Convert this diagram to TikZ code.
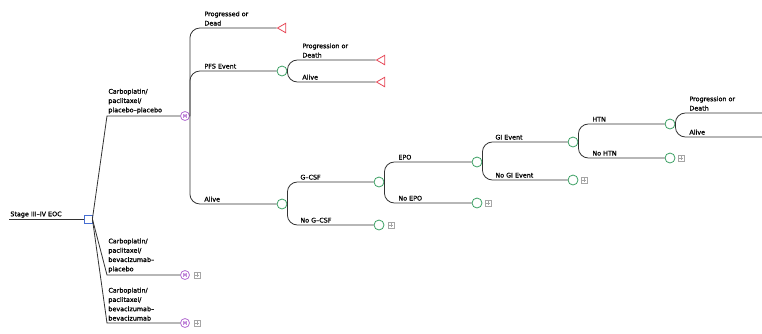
\documentclass[tikz,border=0pt]{standalone}
\usepackage{fontspec}
\usepackage{tikz}
\usetikzlibrary{shapes.geometric}
\newfontfamily\treefont[FakeBold=0.9]{DejaVu Sans}
\definecolor{chcgreen}{RGB}{60,160,100}
\definecolor{mkvpurple}{RGB}{180,110,210}
\definecolor{trmred}{RGB}{230,70,85}
\definecolor{decblue}{RGB}{70,110,210}

\begin{document}
\begin{tikzpicture}[x=1pt, y=-1pt, line width=0.8pt,
	every node/.style={font=\treefont\fontsize{6.4}{9.3}\selectfont},
	br/.style={draw=black!80, rounded corners=10pt},
	lbl/.style={anchor=south west, inner sep=1pt, align=left},
	dec/.style={draw=decblue, fill=white, minimum size=8pt, inner sep=0pt},
	mkv/.style={draw=mkvpurple, fill=white, circle, minimum size=9pt, inner sep=0pt, text=mkvpurple, font=\treefont\fontsize{5}{5}\selectfont},
	chc/.style={draw=chcgreen, fill=white, circle, minimum size=10pt, inner sep=0pt},
	trm/.style={draw=trmred, fill=white, regular polygon, regular polygon sides=3, shape border rotate=90, minimum size=11pt, inner sep=0pt},
	clps/.style={draw=gray!70, minimum size=6.5pt, inner sep=0pt, line width=0.5pt, path picture={\draw[gray!70, line width=0.5pt] ([yshift=-1.3pt]path picture bounding box.north) -- ([yshift=1.3pt]path picture bounding box.south) ([xshift=1.3pt]path picture bounding box.west) -- ([xshift=-1.3pt]path picture bounding box.east);}}]
	\useasboundingbox (0,0) rectangle (762,333);
	\node[lbl] (root) at (9,219) {Stage III–IV EOC};
	\node[dec] (d) at (88,219) {};
	\draw[br] (root.south west) -- (d);
	\node[mkv] (m1) at (185,116) {M};
	\node[mkv] (m2) at (185,275) {M};
	\node[mkv] (m3) at (185,323) {M};
	\node[clps] (x5) at (197,275) {};
	\node[clps] (x6) at (197,323) {};
	\node[lbl] (l1) at (107,115) {Carboplatin/\\paclitaxel/\\placebo–placebo};
	\node[lbl] (l2) at (107,274) {Carboplatin/\\paclitaxel/\\bevacizumab–\\placebo};
	\node[lbl] (l3) at (107,322) {Carboplatin/\\paclitaxel/\\bevacizumab–\\bevacizumab};
	\draw[draw=black!80] (d.east) -- (l1.south west |- m1) -- (m1);
	\draw[draw=black!80] (d.east) -- (l2.south west |- m2) -- (m2);
	\draw[draw=black!80] (d.east) -- (l3.south west |- m3) -- (m3);
	\node[trm] (t1) at (283,28) {};
	\node[chc] (c1) at (282,71) {};
	\node[chc] (c2) at (282,204) {};
	\node[lbl] at (203,27) {Progressed or\\Dead};
	\node[lbl] at (203,70) {PFS Event};
	\node[lbl] at (203,203) {Alive};
	\draw[br] (m1.east) |- (t1);
	\draw[br] (m1.east) |- (c1);
	\draw[br] (m1.east) |- (c2);
	\node[trm] (t2) at (382,60) {};
	\node[trm] (t3) at (382,82) {};
	\node[lbl] at (301,59) {Progression or\\Death};
	\node[lbl] at (301,81) {Alive};
	\draw[br] (c1.east) |- (t2);
	\draw[br] (c1.east) |- (t3);
	\node[chc] (c3) at (379,182) {};
	\node[chc] (c4) at (379,225) {};
	\node[clps] (x1) at (391,225) {};
	\node[lbl] at (299,181) {G–CSF};
	\node[lbl] at (299,224) {No G–CSF};
	\draw[br] (c2.east) |- (c3);
	\draw[br] (c2.east) |- (c4);
	\node[chc] (c5) at (477,162) {};
	\node[chc] (c6) at (477,203) {};
	\node[clps] (x2) at (488,203) {};
	\node[lbl] at (397,161) {EPO};
	\node[lbl] at (397,202) {No EPO};
	\draw[br] (c3.east) |- (c5);
	\draw[br] (c3.east) |- (c6);
	\node[chc] (c7) at (573,142) {};
	\node[chc] (c8) at (573,180) {};
	\node[clps] (x3) at (584,180) {};
	\node[lbl] at (494,141) {GI Event};
	\node[lbl] at (494,179) {No GI Event};
	\draw[br] (c5.east) |- (c7);
	\draw[br] (c5.east) |- (c8);
	\node[chc] (c9) at (670,124) {};
	\node[chc] (c10) at (670,158) {};
	\node[clps] (x4) at (681,158) {};
	\node[lbl] at (591,123) {HTN};
	\node[lbl] at (591,157) {No HTN};
	\draw[br] (c7.east) |- (c9);
	\draw[br] (c7.east) |- (c10);
	\coordinate (e1) at (762,113);
	\coordinate (e2) at (762,137);
	\node[lbl] at (688,112) {Progression or\\Death};
	\node[lbl] at (688,136) {Alive};
	\draw[br] (c9.east) |- (e1);
	\draw[br] (c9.east) |- (e2);
\end{tikzpicture}
\end{document}
